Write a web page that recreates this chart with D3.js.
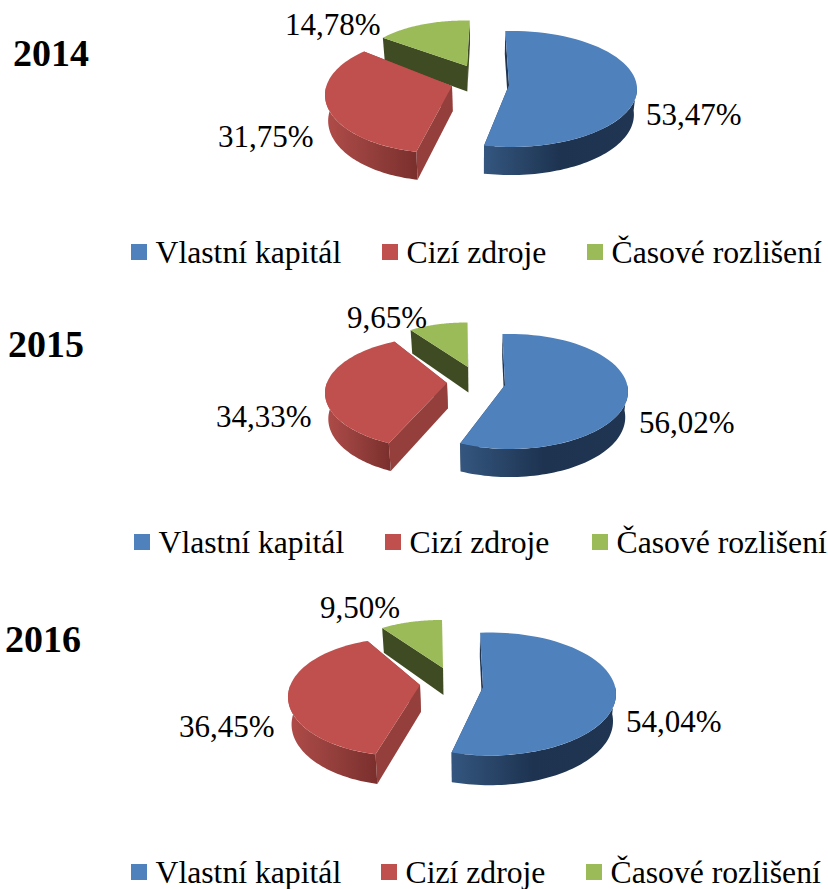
<!DOCTYPE html>
<html>
<head>
<meta charset="utf-8">
<title>Struktura pasiv</title>
<script src="https://cdn.jsdelivr.net/npm/d3@7"></script>
<style>
  html, body { margin: 0; padding: 0; background: #fff; }
  svg { display: block; }
  text { font-family: "Liberation Serif", serif; fill: #000; }
</style>
</head>
<body>
<div class="chart"></div>
<script>
//Values
var years = ["2014", "2015", "2016"];
var categories = ["Vlastní kapitál", "Cizí zdroje", "Časové rozlišení"];
var vlastniKapital = [53.47, 56.02, 54.04];
var ciziZdroje = [31.75, 34.33, 36.45];
var casoveRozliseni = [14.78, 9.65, 9.50];

//Colours: top face, cut face, outer wall left and right
var topColors = ["#4f81bd", "#c0504d", "#9bbb59"];
var cutColors = ["#1f3551", "#943f3c", "#3f4b22"];
var wallStops = [
  ["#34567f", "#1d3350", "#1f3552"],
  ["#b04c49", "#943f3c", "#7a2f2d"],
  ["#3f4b22", "#3f4b22", "#3f4b22"]
];

var svgWidth = 828;
var svgHeight = 889;

//Layout of each pie. Per slice: apex (ax, ay), rim ellipse (cx, cy, a, b), shear s
var pieLayout = [
  { vx: 482, depth: 25.5, slices: [
    { ax: 509, ay: 85, cx: 511, cy: 89, a: 126, b: 58, s: -4 },
    { ax: 452, ay: 86, cx: 440, cy: 95, a: 115, b: 58, s: 6 },
    { ax: 467, ay: 66, cx: 465, cy: 66.5, a: 105, b: 46, s: 2.8 } ] },
  { vx: 490, depth: 25.5, slices: [
    { ax: 505, ay: 385, cx: 510, cy: 391.5, a: 118, b: 57.5, s: -2.9 },
    { ax: 447, ay: 383, cx: 440, cy: 393, a: 115, b: 56, s: 8.5 },
    { ax: 468, ay: 367, cx: 466, cy: 367.5, a: 100, b: 45, s: -0.5 } ] },
  { vx: 466, depth: 27, slices: [
    { ax: 483, ay: 687, cx: 490, cy: 694, a: 126, b: 61.5, s: -3.3 },
    { ax: 420, ay: 685, cx: 403, cy: 697, a: 115, b: 59, s: 8 },
    { ax: 443, ay: 668, cx: 441, cy: 668.5, a: 107, b: 48.5, s: -1 } ] }
];

//Percent labels [x, baseline] per pie and slice
var labelPos = [
  [[646, 125], [218, 147], [285, 35]],
  [[639, 433], [216, 427], [347, 328]],
  [[626, 732], [179, 737], [320, 617.5]]
];
var titlePos = [[13, 66], [8, 357], [5, 652]];

//Legend rows: square x for each entry and the row's baseline
var legendRows = [
  { y: 263, x: [131, 382, 587] },
  { y: 553, x: [134, 385, 592] },
  { y: 883, x: [131, 381, 586] }
];

var svg = d3.select(".chart")
  .append("svg")
  .attr("width", svgWidth)
  .attr("height", svgHeight);

var defs = svg.append("defs");

wallStops.forEach(function(stops, i) {
  var grad = defs.append("linearGradient")
    .attr("id", "wall" + i)
    .attr("x1", 0).attr("x2", 1).attr("y1", 0).attr("y2", 0);
  stops.forEach(function(c, j) {
    grad.append("stop").attr("offset", j / 2).attr("stop-color", c);
  });
});

var bottomScale = 0.98;
var depthSkew = 0.1;

var pie = d3.pie().sort(null).value(function(d) { return d; });
var line = d3.line();

//Where the ray from the apex at pie angle t hits the slice's rim ellipse
function topPoint(s, t) {
  var dx = s.a * Math.sin(t) + s.s * Math.cos(t);
  var dy = -s.b * Math.cos(t);
  var u = (s.ax - s.cx) / s.a;
  var v = (s.ay - s.cy) / s.b;
  var p = dx / s.a;
  var q = dy / s.b;
  var A = p * p + q * q;
  var B = 2 * (u * p + v * q);
  var C = u * u + v * v - 1;
  var k = (-B + Math.sqrt(B * B - 4 * A * C)) / (2 * A);
  return [s.ax + k * dx, s.ay + k * dy];
}

function rim(s, a0, a1) {
  return d3.range(0, 61).map(function(i) {
    return topPoint(s, a0 + (a1 - a0) * i / 60);
  });
}

years.forEach(function(year, p) {
  var layout = pieLayout[p];
  var values = [vlastniKapital[p], ciziZdroje[p], casoveRozliseni[p]];
  var arcs = pie(values);
  var g = svg.append("g").attr("class", "pie-" + year);

  //A point moved down onto the bottom plane
  function lower(pt, a) {
    var d = a === null ? layout.depth : layout.depth * (1 - depthSkew * Math.cos(a));
    return [layout.vx + (pt[0] - layout.vx) * bottomScale, pt[1] + d];
  }

  //Back slices first so the front ones sit on top
  d3.range(arcs.length - 1, -1, -1).forEach(function(i) {
    var s = layout.slices[i];
    var a0 = arcs[i].startAngle;
    var a1 = arcs[i].endAngle;
    var apex = [s.ax, s.ay];
    var apexLow = lower(apex, null);

    //The two cut faces
    [a0, a1].forEach(function(a) {
      var pt = topPoint(s, a);
      g.append("path")
        .attr("d", line([apex, pt, lower(pt, a), apexLow]) + "Z")
        .attr("fill", cutColors[i]);
    });

    //Outer wall, only the part that faces the viewer
    var w0 = Math.max(a0, Math.PI / 2);
    var w1 = Math.min(a1, Math.PI * 1.5);
    if (w1 > w0) {
      var wall = d3.range(0, 61).map(function(k) {
        var a = w0 + (w1 - w0) * k / 60;
        return { top: topPoint(s, a), low: lower(topPoint(s, a), a) };
      });
      g.append("path")
        .attr("d", line(wall.map(function(d) { return d.top; })
          .concat(wall.map(function(d) { return d.low; }).reverse())) + "Z")
        .attr("fill", "url(#wall" + i + ")");
    }

    //Top face
    g.append("path")
      .attr("d", line([apex].concat(rim(s, a0, a1))) + "Z")
      .attr("fill", topColors[i]);
  });

  //Percent labels
  values.forEach(function(v, i) {
    svg.append("text")
      .attr("x", labelPos[p][i][0])
      .attr("y", labelPos[p][i][1])
      .style("font-size", "31px")
      .text(v.toFixed(2).replace(".", ",") + "%");
  });

  //Year title
  svg.append("text")
    .attr("x", titlePos[p][0])
    .attr("y", titlePos[p][1])
    .style("font-size", "38px")
    .style("font-weight", "bold")
    .text(year);

  //Legend
  categories.forEach(function(name, i) {
    var row = legendRows[p];
    svg.append("rect")
      .attr("x", row.x[i])
      .attr("y", row.y - 19)
      .attr("width", 16)
      .attr("height", 16)
      .attr("fill", topColors[i]);
    svg.append("text")
      .attr("x", row.x[i] + 24.5)
      .attr("y", row.y)
      .style("font-size", "31.7px")
      .text(name);
  });
});
</script>
</body>
</html>
